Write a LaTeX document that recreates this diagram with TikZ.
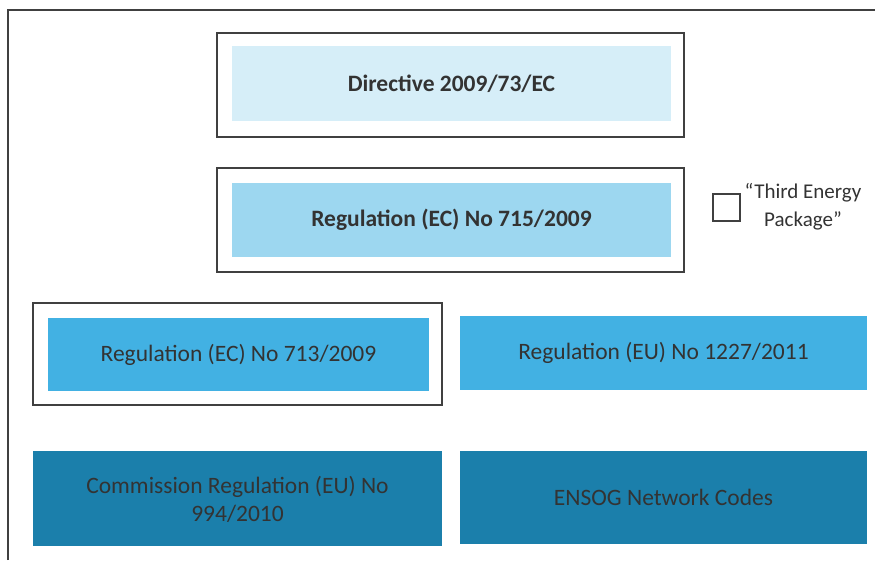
\documentclass[tikz,border=0pt]{standalone}
\usepackage{fontspec}
\setmainfont{Carlito}
\definecolor{c1}{HTML}{D6EEF8}
\definecolor{c2}{HTML}{9DD7F0}
\definecolor{c3}{HTML}{42B1E3}
\definecolor{c4}{HTML}{1B7FAB}
\definecolor{txt}{HTML}{333333}
\definecolor{frm}{HTML}{404040}
\begin{document}
\begin{tikzpicture}[x=1pt,y=-1pt,
  frame/.style={draw=frm,line width=1.5pt},
  fillbox/.style={text=txt,font=\fontsize{23.5}{28}\selectfont,align=center},
  boldbox/.style={fillbox,font=\fontsize{23.5}{28}\selectfont\bfseries}]
\useasboundingbox (0,0) rectangle (875,560);
\draw[draw=frm,line width=2pt] (8,560) -- (8,10) -- (875,10);
% box 1
\draw[frame] (217,33) rectangle (684,137);
\fill[c1] (232,46) rectangle (671,121);
\node[boldbox] (dir) at (451.5,84) {Directive 2009/73/EC};
% box 2
\draw[frame] (217,168) rectangle (684,272);
\fill[c2] (232,183) rectangle (671,257);
\node[boldbox] (r715) at (451.5,220) {Regulation (EC) No 715/2009};
% legend
\draw[frame] (713,194) rectangle (740,221);
\node[fillbox,font=\fontsize{21}{28}\selectfont] (leg) at (803,207) {“Third Energy\\Package”};
% box 3
\draw[frame] (33,303) rectangle (442,405);
\fill[c3] (48,318) rectangle (429,391);
\node[fillbox] (r713) at (238.5,354.5) {Regulation (EC) No 713/2009};
% box 4
\fill[c3] (460,316) rectangle (867,390);
\node[fillbox] (r1227) at (663.5,353) {Regulation (EU) No 1227/2011};
% box 5
\fill[c4] (33,451) rectangle (442,546);
\node[fillbox] (c994) at (237.5,499) {Commission Regulation (EU) No\\994/2010};
% box 6
\fill[c4] (460,451) rectangle (867,544);
\node[fillbox] (ensog) at (663.5,497.5) {ENSOG Network Codes};
\end{tikzpicture}
\end{document}
